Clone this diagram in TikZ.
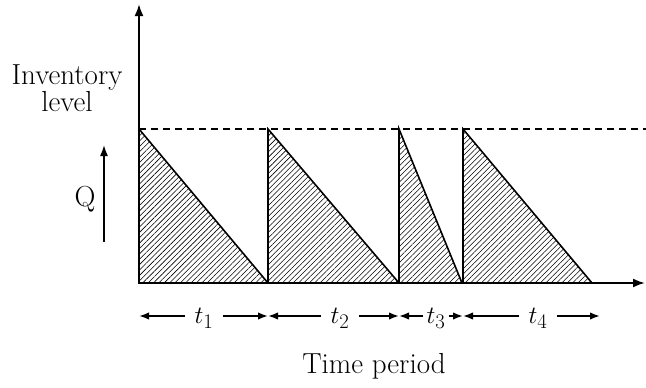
\documentclass[tikz,border=0pt]{standalone}
\usetikzlibrary{arrows.meta,patterns.meta}
\begin{document}
\begin{tikzpicture}[x=1pt,y=-1pt,
  lbl/.style={font=\fontsize{29}{27}\selectfont, inner sep=0pt, align=center},
  axisline/.style={line width=2pt, -{Latex[length=12pt,width=9pt]}},
  tri/.style={line width=1.6pt, line join=miter, pattern={Lines[angle=45,distance=3.8pt,line width=0.55pt]}},
  spanarrow/.style={line width=1.7pt, -{Latex[length=10pt,width=7.5pt]}},
  tlab/.style={font=\fontsize{29}{30}\selectfont, inner xsep=9pt, inner ysep=0pt}
]
\useasboundingbox (0,0) rectangle (646,388);
% axis points
\coordinate (O) at (139,283);
\coordinate (Ytop) at (139,4);
\coordinate (Xend) at (645,283);
\coordinate (Dl) at (139,129);
\coordinate (Dr) at (646,129);
% triangles
\draw[tri] (139,283) -- (139,129) -- (268,283) -- cycle;
\draw[tri] (268,283) -- (268,129) -- (399,283) -- cycle;
\draw[tri] (399,283) -- (399,129) -- (462,283) -- cycle;
\draw[tri] (463,283) -- (463,129) -- (592,283) -- cycle;
% dashed max level
\draw[line width=1.5pt, dash pattern=on 7pt off 5pt] (Dl) -- (Dr);
% axes
\draw[axisline] (O) -- (Ytop);
\draw[axisline] (O) -- (Xend);
% Q arrow
\coordinate (qa) at (104,242);
\coordinate (qb) at (104,145);
\draw[line width=1.6pt, -{Latex[length=11pt,width=8pt]}] (qa) -- (qb);
\node[lbl] (q) at (85,199) {Q};
% labels
\node[lbl] (inv) at (67,88) {Inventory\\level};
\node[lbl] (time) at (374,366) {Time period};
% span coordinates
\coordinate (p0) at (139,316);
\coordinate (p1) at (268,316);
\coordinate (p2) at (399,316);
\coordinate (p3) at (463,316);
\coordinate (p4) at (600,316);
\node[tlab] (t1) at (204,318) {$t_1$};
\node[tlab] (t2) at (340,318) {$t_2$};
\node[tlab,inner xsep=3pt] (t3) at (436,318) {$t_3$};
\node[tlab] (t4) at (538,318) {$t_4$};
\draw[spanarrow] (t1.west |- p0) -- (p0);
\draw[spanarrow] (t1.east |- p0) -- (p1);
\draw[spanarrow] (t2.west |- p0) -- (p1);
\draw[spanarrow] (t2.east |- p0) -- (p2);
\draw[spanarrow] (t3.west |- p0) -- (p2);
\draw[spanarrow] (t3.east |- p0) -- (p3);
\draw[spanarrow] (t4.west |- p0) -- (p3);
\draw[spanarrow] (t4.east |- p0) -- (p4);
\end{tikzpicture}
\end{document}
